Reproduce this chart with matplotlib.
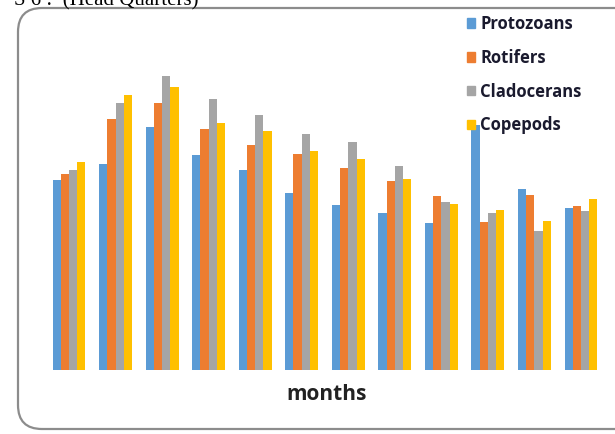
import numpy as np
import matplotlib
matplotlib.use('Agg')
import matplotlib.pyplot as plt
from matplotlib.patches import FancyBboxPatch, Patch

# bar heights (no y axis in the original)
months = np.arange(12)
protozoans = [190, 206, 243, 215, 200, 177, 165, 157, 147, 245, 181, 162]
rotifers = [196, 251, 267, 241, 225, 216, 202, 189, 174, 148, 175, 164]
cladocerans = [200, 267, 294, 271, 255, 236, 228, 204, 168, 157, 139, 159]
copepods = [208, 275, 283, 247, 239, 219, 211, 191, 166, 160, 149, 171]
names = ['Protozoans', 'Rotifers', 'Cladocerans', 'Copepods']
colors = ['#5B9BD5', '#ED7D31', '#A5A5A5', '#FFC000']

W, H = 615, 434
fig = plt.figure(figsize=(W/100, H/100), dpi=100)

# background layer in pixel units: rounded chart frame + clipped caption
bg = fig.add_axes([0, 0, 1, 1])
bg.set_xlim(0, W)
bg.set_ylim(H, 0)
bg.axis('off')
frame = FancyBboxPatch((18, 8), 640, 421, boxstyle='round,pad=0,rounding_size=24',
                       facecolor='white', edgecolor='#8c8c8c', linewidth=1.6)
bg.add_patch(frame)
bg.text(14, 5, 'S 6 :  (Head Quarters)', fontsize=15, family='Liberation Serif',
        ha='left', va='baseline', color='black')

ax = fig.add_axes([45.75/W, 64/H, 558.5/W, 350/H])
ax.patch.set_alpha(0)
w = 0.177
series = [protozoans, rotifers, cladocerans, copepods]
for k, vals in enumerate(series):
    ax.bar(months + (k - 1.5)*w, vals, width=w, color=colors[k], label=names[k])
ax.set_xlim(-0.5, 11.5)
ax.set_ylim(0, 350)
ax.axis('off')

handles = [Patch(color=c) for c in colors]
fig.legend(handles, names, loc='upper left', bbox_to_anchor=(452/W, 1 - 0/H),
           frameon=False, handlelength=0.5, handleheight=0.5, handletextpad=0.3,
           labelspacing=0.95, labelcolor='#1a1a2e',
           prop={'family': 'Open Sans', 'weight': 'bold', 'size': 12})

fig.text(327/W, 1 - 395/H, 'months', ha='center', va='center', fontsize=15,
         family='Open Sans', weight='bold', color='#222222')

fig.savefig('out.png', dpi=100)
